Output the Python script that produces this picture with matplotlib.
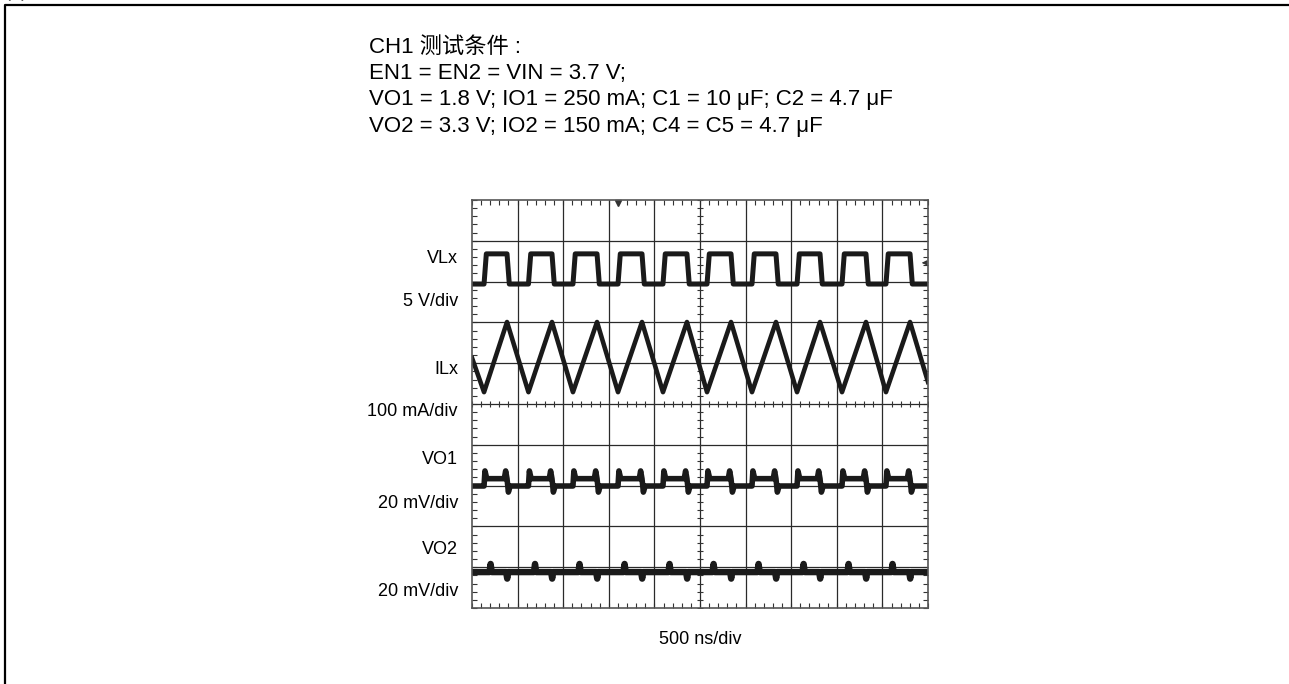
import matplotlib.pyplot as plt
from matplotlib.lines import Line2D

plt.rcParams['font.family'] = ['Liberation Sans', 'Noto Sans CJK SC', 'DejaVu Sans']

# Data (time in ns, level in screen divisions 0..10)
vlx_rise = [132, 619, 1107, 1601, 2094, 2577, 3070, 3564, 4057, 4539]
vlx_fall = [384, 877, 1371, 1864, 2357, 2840, 3333, 3816, 4320, 4803]
vlx_high = 8.68
vlx_low = 7.94

ilx_start = 6.13
ilx_end = 5.54
ilx_peak = 7.01
ilx_valley = 5.29

vo1_low = 2.99
vo1_high = 3.17
vo1_spike_up = 3.36
vo1_spike_dn = 2.84

vo2_base = 0.88
vo2_spike_up = 1.08
vo2_spike_dn = 0.72

channel_labels = ['VLx', '5 V/div', 'ILx', '100 mA/div', 'VO1', '20 mV/div', 'VO2', '20 mV/div']
label_y_px = [258, 301, 369, 412, 460, 503, 550, 592]

cond_lines = ['CH1 测试条件 :',
              'EN1 = EN2 = VIN = 3.7 V;',
              'VO1 = 1.8 V; IO1 = 250 mA; C1 = 10 μF; C2 = 4.7 μF',
              'VO2 = 3.3 V; IO2 = 150 mA; C4 = C5 = 4.7 μF']

W, H = 1289, 684
fig = plt.figure(figsize=(W / 100, H / 100), dpi=100)

# outer frame (top and left edges only)
fig.add_artist(Line2D([5 / W, 5 / W, 1], [0, 1 - 5 / H, 1 - 5 / H], color='black', lw=1.6))
fig.text(5 / W, 1 + 9 / H, '(a)      典型工作波形', fontsize=13, color='#555555', va='center')

# condition text
for i, s in enumerate(cond_lines):
    fig.text(369 / W, 1 - (47 + 26.5 * i) / H, s, fontsize=16, va='center', ha='left')

# scope screen
x0, y0, x1, y1 = 472, 200, 928, 608
ax = fig.add_axes([x0 / W, 1 - y1 / H, (x1 - x0) / W, (y1 - y0) / H])
ax.set_xlim(0, 5000)
ax.set_ylim(0, 10)

for i in range(1, 10):
    ax.axvline(i * 500, color='#2a2a2a', lw=0.9)
    ax.axhline(i, color='#2a2a2a', lw=0.9)
for sp in ax.spines.values():
    sp.set_color('#555555')
    sp.set_linewidth(1.2)

# minor ticks on border and centre lines
ax.set_xticks([i * 100 for i in range(51)])
ax.set_yticks([i * 0.2 for i in range(51)])
ax.tick_params(direction='in', length=3.5, width=0.8, color='#333333',
               top=True, right=True, labelbottom=False, labelleft=False)
ax.plot([i * 100 for i in range(51)], [5] * 51, ls='none', marker='|', ms=5, mew=0.8, color='#333333')
ax.plot([2500] * 51, [i * 0.2 for i in range(51)], ls='none', marker='_', ms=5, mew=0.8, color='#333333')

trace = dict(color='#1a1a1a', solid_joinstyle='round')

# VLx square wave
t, v = [0], [vlx_low]
for r, f in zip(vlx_rise, vlx_fall):
    t += [r, r + 25, f, f + 25]
    v += [vlx_low, vlx_high, vlx_high, vlx_low]
t.append(5000)
v.append(vlx_low)
ax.plot(t, v, lw=3.6, **trace)

# ILx triangle
t, v = [0], [ilx_start]
for r, f in zip(vlx_rise, vlx_fall):
    t += [r, f]
    v += [ilx_valley, ilx_peak]
t.append(5000)
v.append(ilx_end)
ax.plot(t, v, lw=3.3, **trace)

# VO1 ripple
t, v = [0], [vo1_low]
for r, f in zip(vlx_rise, vlx_fall):
    t += [r - 10, r, r + 10, r + 30, f - 30, f - 15, f, f + 15, f + 35]
    v += [vo1_low, vo1_low, vo1_spike_up, vo1_high, vo1_high, vo1_spike_up, vo1_high, vo1_spike_dn, vo1_low]
t.append(5000)
v.append(vo1_low)
ax.plot(t, v, lw=4.0, **trace)

# VO2 ripple
t, v = [0], [vo2_base]
for r, f in zip(vlx_rise, vlx_fall):
    t += [r + 60, r + 72, r + 85, f - 10, f + 2, f + 14]
    v += [vo2_base, vo2_spike_up, vo2_base, vo2_base, vo2_spike_dn, vo2_base]
t.append(5000)
v.append(vo2_base)
ax.plot(t, v, lw=4.6, **trace)

# trigger markers
ax.plot([vlx_rise[3]], [9.93], marker='v', ms=4, color='#333333', clip_on=False)
ax.annotate('', xy=(4900, 8.46), xytext=(4990, 8.46),
            arrowprops=dict(arrowstyle='-|>', color='#333333', lw=0.8, mutation_scale=7))

# channel labels
for s, yp in zip(channel_labels, label_y_px):
    fig.text(458 / W, 1 - yp / H, s, fontsize=13, ha='right', va='center')

fig.text(700 / W, 1 - 640 / H, '500 ns/div', fontsize=13, ha='center', va='center')

plt.savefig('out.png', dpi=100)
